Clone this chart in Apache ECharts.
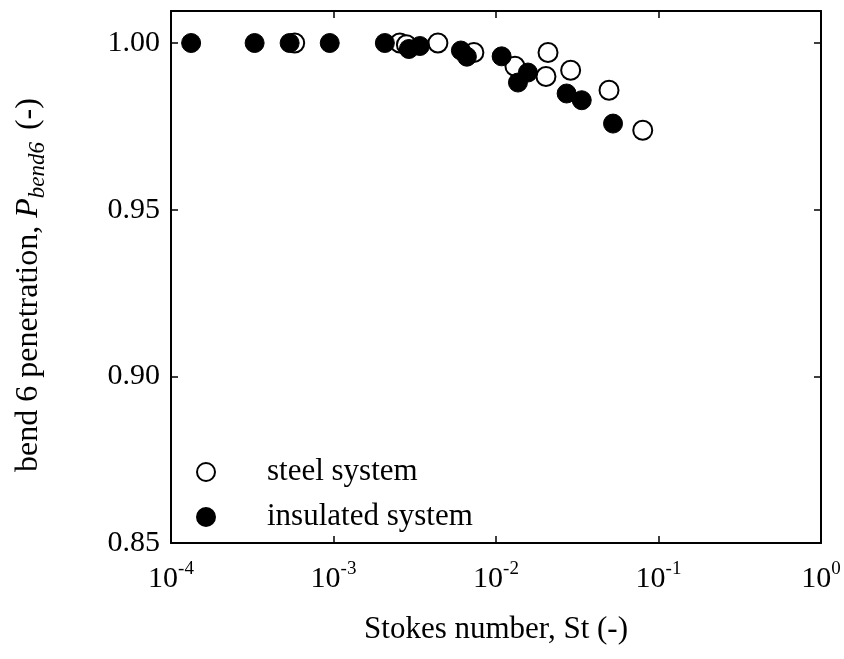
<!DOCTYPE html>
<html>
<head>
<meta charset="utf-8">
<script src="https://cdn.jsdelivr.net/npm/echarts@6/dist/echarts.min.js"></script>
<style>
html,body{margin:0;padding:0;background:#fff;}
#chart{width:844px;height:659px;}
</style>
</head>
<body>
<div id="chart"></div>
<script>
// Steel system (open circles): Stokes number, penetration
const steelSt = [5.77e-4, 2.56e-3, 2.81e-3, 4.39e-3, 7.31e-3, 1.308e-2, 2.09e-2, 2.03e-2, 2.88e-2, 4.96e-2, 8.0e-2];
const steelP  = [1.000, 1.000, 0.9995, 1.000, 0.99715, 0.99303, 0.99715, 0.98994, 0.99183, 0.98583, 0.97382];
// Insulated system (filled circles)
const insulSt = [1.33e-4, 3.27e-4, 5.37e-4, 9.48e-4, 2.07e-3, 2.91e-3, 3.40e-3, 6.08e-3, 6.62e-3, 1.083e-2, 1.572e-2, 1.365e-2, 2.72e-2, 3.37e-2, 5.25e-2];
const insulP  = [1.000, 1.000, 1.000, 1.000, 1.000, 0.9982, 0.9991, 0.99775, 0.9959, 0.9960, 0.99114, 0.98814, 0.98485, 0.98283, 0.97583];
const seriesNames = ['steel system', 'insulated system'];
const xTitle = 'Stokes number, St (-)';
const yTitleParts = ['bend 6 penetration, ', 'P', 'bend6', ' (-)'];
const yTicks = [0.85, 0.90, 0.95, 1.00];

const FONT = '"Liberation Serif", "Times New Roman", serif';
const chart = echarts.init(document.getElementById('chart'));
const pair = (xs, ys) => xs.map((x, i) => [x, ys[i]]);

const axisLineStyle = {show: true, lineStyle: {color: '#000', width: 2}};
const tickStyle = {show: true, inside: true, length: 7, lineStyle: {color: '#000', width: 1.5}};

chart.setOption({
  backgroundColor: '#fff',
  animation: false,
  grid: {left: 171, right: 23, top: 11, bottom: 116},
  legend: {
    orient: 'vertical', left: 191, top: 451, itemGap: 13,
    itemWidth: 18, itemHeight: 18,
    textStyle: {fontFamily: FONT, fontSize: 31, color: '#000', padding: [0, 0, 0, 47], lineHeight: 32},
    data: seriesNames
  },
  xAxis: [{
    type: 'log', logBase: 10, min: 1e-4, max: 1,
    name: xTitle, nameLocation: 'middle', nameGap: 71,
    nameTextStyle: {fontFamily: FONT, fontSize: 31, color: '#000'},
    axisLine: axisLineStyle, axisTick: tickStyle, minorTick: {show: false}, splitLine: {show: false},
    axisLabel: {
      margin: 17, color: '#000',
      formatter: v => '{b|10}{s|' + Math.round(Math.log10(v)) + '}',
      rich: {
        b: {fontFamily: FONT, fontSize: 30, color: '#000', lineHeight: 34, verticalAlign: 'bottom'},
        s: {fontFamily: FONT, fontSize: 19, color: '#000', lineHeight: 34, verticalAlign: 'top'}
      }
    }
  }, {
    type: 'log', logBase: 10, min: 1e-4, max: 1, position: 'top',
    axisLine: axisLineStyle, axisTick: tickStyle, axisLabel: {show: false}, splitLine: {show: false}
  }],
  yAxis: [{
    type: 'value', min: 0.85, max: 1.0096, interval: 0.05,
    name: '{a|' + yTitleParts[0] + '}{i|' + yTitleParts[1] + '}{s|' + yTitleParts[2] + '}{a|' + yTitleParts[3] + '}',
    nameLocation: 'middle', nameGap: 122, nameRotate: 90,
    nameTextStyle: {
      padding: [0, 16, 0, 0],
      rich: {
        a: {fontFamily: FONT, fontSize: 32, color: '#000', lineHeight: 40, verticalAlign: 'middle'},
        i: {fontFamily: FONT, fontSize: 32, fontStyle: 'italic', color: '#000', lineHeight: 40, verticalAlign: 'middle'},
        s: {fontFamily: FONT, fontSize: 23, fontStyle: 'italic', color: '#000', lineHeight: 40, verticalAlign: 'bottom', padding: [0, 4, 0, 0]}
      }
    },
    axisLine: axisLineStyle, axisTick: tickStyle, splitLine: {show: false},
    axisLabel: {
      margin: 11, fontFamily: FONT, fontSize: 30, color: '#000', showMaxLabel: false,
      formatter: v => yTicks.some(t => Math.abs(t - v) < 1e-6) ? v.toFixed(2) : ''
    }
  }, {
    type: 'value', min: 0.85, max: 1.0096, interval: 0.05, position: 'right',
    axisLine: axisLineStyle, axisTick: tickStyle, axisLabel: {show: false}, splitLine: {show: false}
  }],
  series: [{
    name: seriesNames[0], type: 'scatter', symbol: 'circle', symbolSize: 19,
    itemStyle: {color: '#fff', borderColor: '#000', borderWidth: 2, opacity: 1},
    data: pair(steelSt, steelP), z: 2
  }, {
    name: seriesNames[1], type: 'scatter', symbol: 'circle', symbolSize: 19,
    itemStyle: {color: '#000', borderColor: '#000', borderWidth: 1, opacity: 1},
    data: pair(insulSt, insulP), z: 3
  }]
});
</script>
</body>
</html>
